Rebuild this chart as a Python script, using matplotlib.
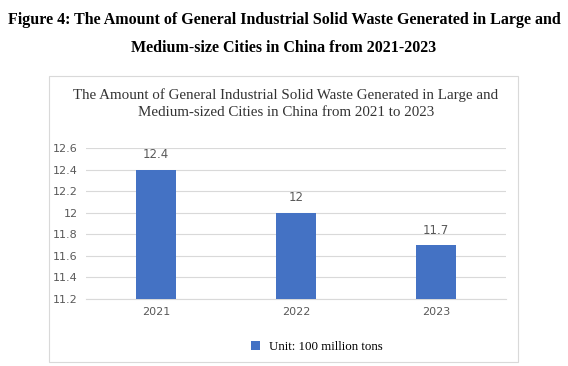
import matplotlib.pyplot as plt
from matplotlib.patches import Rectangle

years = ['2021', '2022', '2023']
amounts = [12.4, 12.0, 11.7]
labels = ['12.4', '12', '11.7']
yticks = [11.2, 11.4, 11.6, 11.8, 12.0, 12.2, 12.4, 12.6]
ytick_labels = ['11.2', '11.4', '11.6', '11.8', '12', '12.2', '12.4', '12.6']

serif = ['Liberation Serif', 'DejaVu Serif']
gray = '#595959'

fig = plt.figure(figsize=(5.68, 3.66), dpi=100)

# outer caption
fig.text(0.5, 1 - 20 / 366, 'Figure 4: The Amount of General Industrial Solid Waste Generated in Large and',
         ha='center', va='center', family=serif, weight='bold', fontsize=11.5)
fig.text(0.5, 1 - 48 / 366, 'Medium-size Cities in China from 2021-2023',
         ha='center', va='center', family=serif, weight='bold', fontsize=11.5)

# chart frame
fig.patches.append(Rectangle((49 / 568, 4 / 366), 469 / 568, 286 / 366, transform=fig.transFigure,
                             fill=False, edgecolor='#d9d9d9', linewidth=0.8))

fig.text(286 / 568, 1 - 95 / 366, 'The Amount of General Industrial Solid Waste Generated in Large and',
         ha='center', va='center', family=serif, fontsize=10.8, color='#333333')
fig.text(286 / 568, 1 - 112 / 366, 'Medium-sized Cities in China from 2021 to 2023',
         ha='center', va='center', family=serif, fontsize=10.8, color='#333333')

ax = fig.add_axes([86 / 568, 67 / 366, 420 / 568, 151 / 366])
x = range(len(years))
bars = ax.bar(x, amounts, width=0.29, color='#4472C4', zorder=3, label='Unit: 100 million tons')
ax.bar_label(bars, labels=labels, padding=6, color=gray, fontsize=8.5)

ax.set_xlim(-0.5, 2.5)
ax.set_ylim(11.2, 12.6)
ax.set_yticks(yticks)
ax.set_yticklabels(ytick_labels)
ax.set_xticks(list(x))
ax.set_xticklabels(years)
ax.grid(axis='y', color='#d9d9d9', linewidth=0.8, zorder=0)
for s in ['top', 'right', 'left']:
    ax.spines[s].set_visible(False)
ax.spines['bottom'].set_color('#d9d9d9')
ax.tick_params(length=0, labelsize=8, labelcolor=gray)
ax.tick_params(axis='y', pad=6)
ax.tick_params(axis='x', pad=6)

ax.legend(loc='upper center', bbox_to_anchor=(0.55, -0.2), frameon=False,
          prop={'family': serif, 'size': 9.3}, handlelength=0.7, handleheight=0.7,
          handletextpad=0.7)

fig.savefig('out.png', dpi=100)
